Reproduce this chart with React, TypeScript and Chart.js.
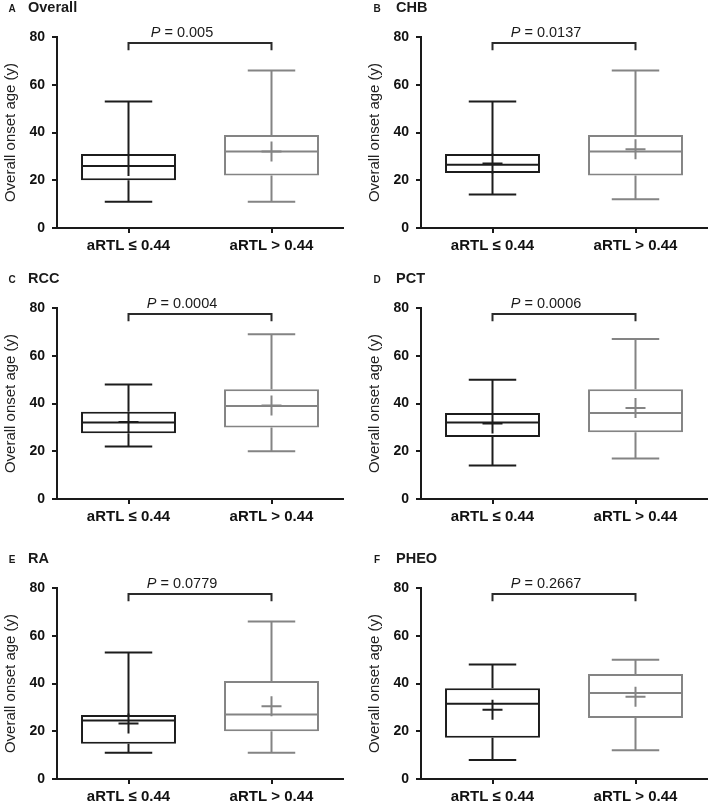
import React, { useEffect, useRef } from 'react';
import { Chart, registerables } from 'chart.js';
Chart.register(...registerables);

// ---- data ----
const categories = ['aRTL ≤ 0.44', 'aRTL > 0.44'];
const yTicks = [0, 20, 40, 60, 80];
const panelLetters = ['A', 'B', 'C', 'D', 'E', 'F'];
const panelTitles = ['Overall', 'CHB', 'RCC', 'PCT', 'RA', 'PHEO'];
const pValues = ['0.005', '0.0137', '0.0004', '0.0006', '0.0779', '0.2667'];
// each entry: [aRTL ≤ 0.44, aRTL > 0.44]
const mins = [[11, 11], [14, 12], [22, 20], [14, 17], [11, 11], [8, 12]];
const q1s = [[20, 22], [23, 22], [27.5, 30], [26, 28], [14.8, 20], [17.3, 25.5]];
const medians = [[26, 32], [26.5, 32], [32, 39], [32, 36], [24.5, 27], [31.5, 36]];
const q3s = [[31, 39], [31, 39], [36.5, 46], [36, 46], [26.8, 41], [38, 44]];
const maxs = [[53, 66], [53, 66], [48, 69], [50, 67], [53, 66], [48, 50]];
const means = [[26, 32], [27, 33], [32.3, 39.2], [31.6, 38.1], [23.2, 30.5], [29, 34.5]];

const groupColors = ['#1c1c1c', '#848484'];
const FONT = '"Liberation Sans", Arial, Helvetica, sans-serif';
const BRACKET_Y = 77.5;
const BRACKET_TIP = 74.5;

const layouts = [
  { left: 0, top: 0, height: 260, xh: 32, side: 0 },
  { left: 364, top: 0, height: 260, xh: 32, side: 1 },
  { left: 0, top: 271, height: 260, xh: 32, side: 0 },
  { left: 364, top: 271, height: 260, xh: 32, side: 1 },
  { left: 0, top: 551, height: 252, xh: 24, side: 0 },
  { left: 364, top: 551, height: 252, xh: 24, side: 1 },
];

function Panel({ idx }: { idx: number }) {
  const ref = useRef<HTMLCanvasElement | null>(null);
  const lay = layouts[idx];
  useEffect(() => {
    if (!ref.current) return;
    const extras = {
      id: 'boxExtras',
      afterDatasetsDraw(chart: any) {
        const { ctx } = chart;
        const y = chart.scales.y;
        const meta = chart.getDatasetMeta(0);
        meta.data.forEach((bar: any, i: number) => {
          const { x, width } = bar.getProps(['x', 'width'], true);
          const yMin = y.getPixelForValue(mins[idx][i]);
          const yQ1 = y.getPixelForValue(q1s[idx][i]);
          const yMed = y.getPixelForValue(medians[idx][i]);
          const yQ3 = y.getPixelForValue(q3s[idx][i]);
          const yMax = y.getPixelForValue(maxs[idx][i]);
          ctx.save();
          ctx.strokeStyle = groupColors[i];
          ctx.lineWidth = 2;
          ctx.lineCap = 'butt';
          ctx.beginPath();
          ctx.moveTo(x, yQ3);
          ctx.lineTo(x, yMax);
          ctx.moveTo(x, yQ1);
          ctx.lineTo(x, yMin);
          ctx.moveTo(x - width / 4, yMax);
          ctx.lineTo(x + width / 4, yMax);
          ctx.moveTo(x - width / 4, yMin);
          ctx.lineTo(x + width / 4, yMin);
          ctx.moveTo(x - width / 2 + 1, yMed);
          ctx.lineTo(x + width / 2 - 1, yMed);
          ctx.stroke();
          ctx.restore();
        });
      },
      afterDraw(chart: any) {
        const { ctx, chartArea } = chart;
        const y = chart.scales.y;
        const meta = chart.getDatasetMeta(0);
        const x1 = meta.data[0].x;
        const x2 = meta.data[1].x;
        const yb = y.getPixelForValue(BRACKET_Y);
        const yt = y.getPixelForValue(BRACKET_TIP);
        ctx.save();
        // bracket
        ctx.strokeStyle = '#2a2a2a';
        ctx.lineWidth = 2;
        ctx.beginPath();
        ctx.moveTo(x1, yt);
        ctx.lineTo(x1, yb);
        ctx.lineTo(x2, yb);
        ctx.lineTo(x2, yt);
        ctx.stroke();
        // p text
        const pFont = `italic 14.5px ${FONT}`;
        const rFont = `14.5px ${FONT}`;
        const rest = ' = ' + pValues[idx];
        ctx.font = pFont;
        const wP = ctx.measureText('P').width;
        ctx.font = rFont;
        const wR = ctx.measureText(rest).width;
        const cx = (x1 + x2) / 2 - 18;
        const sx = cx - (wP + wR) / 2;
        const ty = yb - 10;
        ctx.fillStyle = '#1a1a1a';
        ctx.textBaseline = 'middle';
        ctx.textAlign = 'left';
        ctx.font = pFont;
        ctx.fillText('P', sx, ty);
        ctx.font = rFont;
        ctx.fillText(rest, sx + wP, ty);
        // panel letter + title
        const titleY = chartArea.top - 29;
        ctx.font = `bold 10px ${FONT}`;
        ctx.textAlign = 'center';
        ctx.fillText(panelLetters[idx], chartArea.left - (lay.side ? 44 : 45), titleY + 1);
        ctx.font = `bold 14.5px ${FONT}`;
        ctx.textAlign = 'left';
        ctx.fillText(panelTitles[idx], chartArea.left - (lay.side ? 25 : 29), titleY);
        ctx.restore();
      },
    };
    const chart = new Chart(ref.current, {
      type: 'bar',
      data: {
        labels: categories,
        datasets: [
          {
            type: 'bar',
            data: q1s[idx].map((q, i) => [q, q3s[idx][i]]) as any,
            backgroundColor: '#ffffff',
            borderColor: groupColors,
            borderWidth: 2,
            borderSkipped: false,
            barPercentage: 0.664,
            categoryPercentage: 1,
            order: 1,
          } as any,
          {
            type: 'line',
            data: means[idx],
            showLine: false,
            pointStyle: 'cross',
            pointRadius: 10,
            pointBorderWidth: 2,
            pointBorderColor: groupColors,
            pointBackgroundColor: groupColors,
            order: 0,
          } as any,
        ],
      },
      options: {
        responsive: false,
        animation: false,
        events: [],
        layout: { autoPadding: false, padding: { top: 37, right: 2, left: 0, bottom: 0 } },
        plugins: { legend: { display: false }, tooltip: { enabled: false }, title: { display: false } },
        scales: {
          x: {
            type: 'category',
            offset: true,
            grid: { offset: false, drawOnChartArea: false, drawTicks: true, tickLength: 5, lineWidth: 2, color: '#1a1a1a' },
            border: { display: true, color: '#1a1a1a', width: 2 },
            ticks: { font: { family: FONT, size: 15, weight: 'bold' }, color: '#111', padding: 4, maxRotation: 0 },
            afterFit: (s: any) => { s.height = lay.xh; },
          },
          y: {
            min: 0,
            max: 80,
            afterBuildTicks: (s: any) => { s.ticks = yTicks.map((v) => ({ value: v })); },
            grid: { drawOnChartArea: false, drawTicks: true, tickLength: 5, lineWidth: 2, color: '#1a1a1a' },
            border: { display: true, color: '#1a1a1a', width: 2 },
            ticks: { font: { family: FONT, size: 14, weight: 'bold' }, color: '#111', padding: 7 },
            title: {
              display: true,
              text: 'Overall onset age (y)',
              font: { family: FONT, size: 15 },
              color: '#222',
              padding: { top: 2, bottom: 0 },
            },
            afterFit: (s: any) => { s.width = 57; },
          },
        },
      } as any,
      plugins: [extras],
    });
    return () => chart.destroy();
  }, [idx]);
  return (
    <canvas
      ref={ref}
      width={345}
      height={lay.height}
      style={{ position: 'absolute', left: lay.left, top: lay.top, width: 345, height: lay.height }}
    />
  );
}

export default function App() {
  return (
    <div style={{ position: 'absolute', left: 0, top: 0, width: 709, height: 803, background: '#fff', overflow: 'hidden' }}>
      {layouts.map((_, i) => (
        <Panel key={i} idx={i} />
      ))}
    </div>
  );
}
